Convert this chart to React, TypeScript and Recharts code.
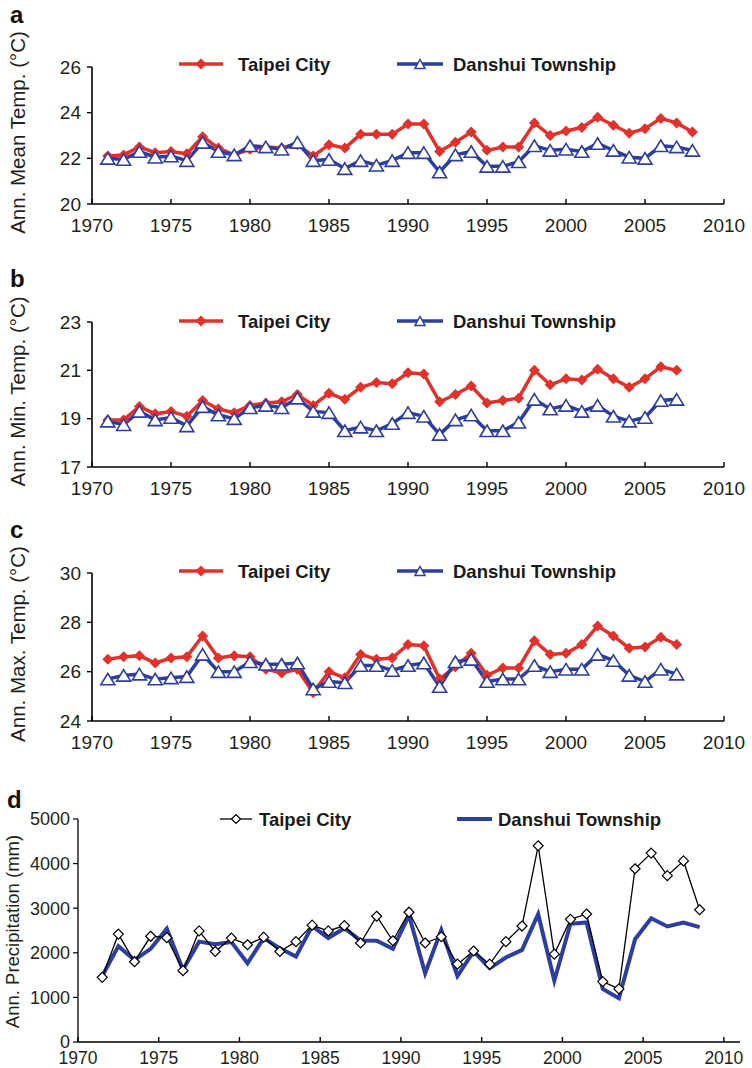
import React from "react"
import { LineChart, Line, XAxis, YAxis } from "recharts"

const FONT = "'Liberation Sans', Arial, Helvetica, sans-serif"
const RED = "#e2302a"
const BLUE = "#2d3e9f"
const INK = "#231f20"

// years 1971-2008 (min / max panels stop at 2007)
const YEARS = [
  1971, 1972, 1973, 1974, 1975, 1976, 1977, 1978, 1979, 1980, 1981, 1982, 1983,
  1984, 1985, 1986, 1987, 1988, 1989, 1990, 1991, 1992, 1993, 1994, 1995, 1996,
  1997, 1998, 1999, 2000, 2001, 2002, 2003, 2004, 2005, 2006, 2007, 2008,
]
const YEAR_TICKS = [1970, 1975, 1980, 1985, 1990, 1995, 2000, 2005, 2010]

const MEAN_TAIPEI = [
  22.1, 22.15, 22.5, 22.25, 22.3, 22.2, 22.95, 22.45, 22.15, 22.4, 22.5, 22.45, 22.6,
  22.1, 22.6, 22.45, 23.05, 23.05, 23.05, 23.5, 23.5, 22.3, 22.7, 23.15, 22.35, 22.5,
  22.5, 23.55, 23.0, 23.2, 23.35, 23.8, 23.45, 23.1, 23.3, 23.75, 23.55, 23.15,
]
const MEAN_DANSHUI = [
  22.0, 21.95, 22.3, 22.05, 22.1, 21.9, 22.7, 22.3, 22.15, 22.55, 22.5, 22.4, 22.7,
  21.9, 21.95, 21.55, 21.9, 21.7, 21.9, 22.25, 22.25, 21.4, 22.15, 22.3, 21.65, 21.65,
  21.85, 22.55, 22.35, 22.4, 22.3, 22.65, 22.35, 22.05, 22.0, 22.55, 22.5, 22.35,
]
const MIN_TAIPEI = [
  18.95, 18.95, 19.5, 19.2, 19.3, 19.1, 19.75, 19.4, 19.25, 19.55, 19.65, 19.7, 20.0,
  19.55, 20.05, 19.8, 20.3, 20.5, 20.45, 20.9, 20.85, 19.7, 20.0, 20.35, 19.65, 19.75,
  19.85, 21.0, 20.4, 20.65, 20.6, 21.05, 20.65, 20.3, 20.65, 21.15, 21.0,
]
const MIN_DANSHUI = [
  18.9, 18.75, 19.3, 18.95, 19.05, 18.7, 19.5, 19.15, 19.0, 19.45, 19.55, 19.45, 19.85,
  19.3, 19.25, 18.5, 18.65, 18.5, 18.8, 19.25, 19.1, 18.35, 18.95, 19.15, 18.5, 18.5,
  18.85, 19.8, 19.4, 19.55, 19.3, 19.55, 19.1, 18.9, 19.05, 19.75, 19.8,
]
const MAX_TAIPEI = [
  26.5, 26.6, 26.65, 26.35, 26.55, 26.6, 27.45, 26.55, 26.65, 26.6, 26.1, 25.95, 26.1,
  25.15, 26.0, 25.75, 26.7, 26.5, 26.55, 27.1, 27.05, 25.7, 26.2, 26.75, 25.85, 26.15,
  26.15, 27.25, 26.7, 26.75, 27.1, 27.85, 27.45, 26.95, 27.0, 27.4, 27.1,
]
const MAX_DANSHUI = [
  25.7, 25.85, 25.9, 25.7, 25.75, 25.8, 26.7, 26.0, 26.0, 26.4, 26.3, 26.3, 26.35,
  25.3, 25.6, 25.55, 26.25, 26.25, 26.05, 26.25, 26.35, 25.4, 26.4, 26.5, 25.6, 25.7,
  25.7, 26.25, 26.0, 26.1, 26.1, 26.7, 26.45, 25.85, 25.6, 26.1, 25.9,
]
const PRECIP_TAIPEI = [
  1450, 2420, 1800, 2370, 2340, 1600, 2490, 2030, 2330, 2180, 2350, 2030, 2250,
  2620, 2490, 2610, 2220, 2820, 2270, 2910, 2220, 2360, 1745, 2040, 1745, 2250,
  2600, 4400, 1970, 2750, 2870, 1355, 1190, 3885, 4235, 3730, 4060, 2965,
]
const PRECIP_DANSHUI = [
  1480, 2150, 1840, 2090, 2540, 1620, 2250, 2190, 2240, 1765, 2330, 2100, 1915,
  2600, 2330, 2550, 2275, 2270, 2090, 2840, 1540, 2515, 1480, 2030, 1655, 1895,
  2065, 2865, 1375, 2650, 2680, 1190, 980, 2305, 2775, 2590, 2680, 2575,
]

const rows = (a: number[], b: number[]) =>
  a.map((v, i) => ({ year: YEARS[i], taipei: v, danshui: b[i] }))

// rainfall totals are plotted at mid-year
const precipRows = PRECIP_TAIPEI.map((v, i) => ({
  year: YEARS[i] + 0.5,
  taipei: v,
  danshui: PRECIP_DANSHUI[i],
}))

const diamond = (x: number, y: number, r: number) =>
  `M${x},${y - r}L${x + r},${y}L${x},${y + r}L${x - r},${y}Z`
const triangle = (x: number, y: number, w: number, h: number) =>
  `M${x},${y - h / 2}L${x + w / 2},${y + h / 2}L${x - w / 2},${y + h / 2}Z`

// eslint-disable-next-line @typescript-eslint/no-explicit-any
const redDiamond = (p: any) =>
  p.cx == null ? <g key={p.index} /> : <path key={p.index} d={diamond(p.cx, p.cy, 5.5)} fill={RED} />
// eslint-disable-next-line @typescript-eslint/no-explicit-any
const blueTriangle = (p: any) =>
  p.cx == null ? <g key={p.index} /> : (
    <path key={p.index} d={triangle(p.cx, p.cy, 14, 11.5)} fill="#fff" stroke={BLUE} strokeWidth={1.6} />
  )
// eslint-disable-next-line @typescript-eslint/no-explicit-any
const openDiamond = (p: any) =>
  p.cx == null ? <g key={p.index} /> : (
    <path key={p.index} d={diamond(p.cx, p.cy, 5)} fill="#fff" stroke="#000" strokeWidth={1.2} />
  )

// x ticks point up into the plot
// eslint-disable-next-line @typescript-eslint/no-explicit-any
function YearTick({ x, y, payload, fontSize, dy }: any) {
  return (
    <g>
      <line x1={x} x2={x} y1={y} y2={y - 5} stroke="#000" strokeWidth={1.4} />
      <text x={x} y={y + dy} textAnchor="middle" fontSize={fontSize} fill={INK} fontFamily={FONT}>
        {payload.value}
      </text>
    </g>
  )
}

function axisTitle(text: string, x: number, fontSize: number, shift: number) {
  // eslint-disable-next-line @typescript-eslint/no-explicit-any
  return (props: any) => {
    const vb = props.viewBox
    const cy = vb.y + vb.height / 2 + shift
    return (
      <text
        x={x}
        y={cy}
        transform={`rotate(-90 ${x} ${cy})`}
        textAnchor="middle"
        fontSize={fontSize}
        fill={INK}
        fontFamily={FONT}
      >
        {text}
      </text>
    )
  }
}

function TempPanel({
  top,
  height,
  plotTop,
  plotBottom,
  data,
  domain,
  ticks,
  title,
}: {
  top: number
  height: number
  plotTop: number
  plotBottom: number
  data: { year: number; taipei: number; danshui: number }[]
  domain: [number, number]
  ticks: number[]
  title: string
}) {
  const axisH = 30
  return (
    <div style={{ position: "absolute", left: 0, top }}>
      <LineChart
        width={752}
        height={height}
        data={data}
        margin={{ top: plotTop, right: 28, left: 32, bottom: height - plotBottom - axisH }}
      >
        <XAxis
          dataKey="year"
          type="number"
          domain={[1970, 2010]}
          ticks={YEAR_TICKS}
          interval={0}
          height={axisH}
          tickSize={0}
          tickMargin={0}
          tickLine={false}
          axisLine={{ stroke: "#000", strokeWidth: 1.6 }}
          tick={(p) => <YearTick {...p} fontSize={19} dy={28} />}
        />
        <YAxis
          type="number"
          domain={domain}
          ticks={ticks}
          interval={0}
          width={60}
          tickSize={5}
          tickMargin={6}
          tickLine={{ stroke: "#000", strokeWidth: 1.4 }}
          axisLine={{ stroke: "#000", strokeWidth: 1.6 }}
          tick={{ fontSize: 19, fill: INK, fontFamily: FONT }}
          label={{ content: axisTitle(title, 25, 20.5, -3) }}
        />
        <Line
          dataKey="taipei"
          stroke={RED}
          strokeWidth={3.5}
          dot={redDiamond}
          activeDot={false}
          isAnimationActive={false}
        />
        <Line
          dataKey="danshui"
          stroke={BLUE}
          strokeWidth={3.5}
          dot={blueTriangle}
          activeDot={false}
          isAnimationActive={false}
        />
      </LineChart>
    </div>
  )
}

function TempLegend({ y }: { y: number }) {
  return (
    <g fontFamily={FONT} fontWeight="bold" fontSize={18.5} fill="#1a1a1a">
      <line x1={179} x2={223} y1={y} y2={y} stroke={RED} strokeWidth={3.5} />
      <path d={diamond(201, y, 5.5)} fill={RED} />
      <text x={238} y={y + 7}>Taipei City</text>
      <line x1={397} x2={443} y1={y} y2={y} stroke={BLUE} strokeWidth={3.5} />
      <path d={triangle(420, y, 10, 9)} fill="#fff" stroke={BLUE} strokeWidth={1.5} />
      <text x={453} y={y + 7}>Danshui Township</text>
    </g>
  )
}

export default function App() {
  return (
    <div style={{ position: "absolute", left: 0, top: 0, width: 752, height: 1068, background: "#fff" }}>
      <TempPanel
        top={0}
        height={250}
        plotTop={67}
        plotBottom={204}
        data={rows(MEAN_TAIPEI, MEAN_DANSHUI)}
        domain={[20, 26]}
        ticks={[20, 22, 24, 26]}
        title="Ann. Mean Temp. (°C)"
      />
      <TempPanel
        top={250}
        height={250}
        plotTop={72}
        plotBottom={217}
        data={rows(MIN_TAIPEI, MIN_DANSHUI)}
        domain={[17, 23]}
        ticks={[17, 19, 21, 23]}
        title="Ann. Min. Temp. (°C)"
      />
      <TempPanel
        top={500}
        height={260}
        plotTop={73}
        plotBottom={221}
        data={rows(MAX_TAIPEI, MAX_DANSHUI)}
        domain={[24, 30]}
        ticks={[24, 26, 28, 30]}
        title="Ann. Max. Temp. (°C)"
      />

      <div style={{ position: "absolute", left: 0, top: 750 }}>
        <LineChart width={752} height={318} data={precipRows} margin={{ top: 69, right: 12, left: 18, bottom: 0 }}>
          <XAxis
            dataKey="year"
            type="number"
            domain={[1970, 2011]}
            ticks={YEAR_TICKS}
            interval={0}
            height={26}
            tickSize={0}
            tickMargin={0}
            tickLine={false}
            axisLine={{ stroke: "#000", strokeWidth: 1.3 }}
            tick={(p) => <YearTick {...p} fontSize={17.5} dy={22} />}
          />
          <YAxis
            type="number"
            domain={[0, 5000]}
            ticks={[0, 1000, 2000, 3000, 4000, 5000]}
            interval={0}
            width={60}
            tickSize={5}
            tickMargin={3}
            tickLine={{ stroke: "#000", strokeWidth: 1.2 }}
            axisLine={{ stroke: "#000", strokeWidth: 1.3 }}
            tick={{ fontSize: 18, fill: INK, fontFamily: FONT }}
            label={{ content: axisTitle("Ann. Precipitation (mm)", 19, 18.5, 1) }}
          />
          <Line
            dataKey="danshui"
            stroke={BLUE}
            strokeWidth={4}
            dot={false}
            activeDot={false}
            isAnimationActive={false}
          />
          <Line
            dataKey="taipei"
            stroke="#000"
            strokeWidth={1.3}
            dot={openDiamond}
            activeDot={false}
            isAnimationActive={false}
          />
        </LineChart>
      </div>

      <svg
        width={752}
        height={1068}
        style={{ position: "absolute", left: 0, top: 0, pointerEvents: "none" }}
      >
        <g fontFamily={FONT} fontWeight="bold" fontSize={24} fill="#111">
          <text x={10} y={23}>a</text>
          <text x={10} y={287}>b</text>
          <text x={10} y={538}>c</text>
          <text x={7} y={808}>d</text>
        </g>
        <TempLegend y={64} />
        <TempLegend y={321} />
        <TempLegend y={571} />
        <g fontFamily={FONT} fontWeight="bold" fontSize={18.5} fill="#1a1a1a">
          <line x1={220} x2={252} y1={819} y2={819} stroke="#000" strokeWidth={1.3} />
          <path d={diamond(236, 819, 4.5)} fill="#fff" stroke="#000" strokeWidth={1.2} />
          <text x={259} y={826}>Taipei City</text>
          <line x1={457} x2={492} y1={819} y2={819} stroke={BLUE} strokeWidth={4} />
          <text x={498} y={826}>Danshui Township</text>
        </g>
      </svg>
    </div>
  )
}
